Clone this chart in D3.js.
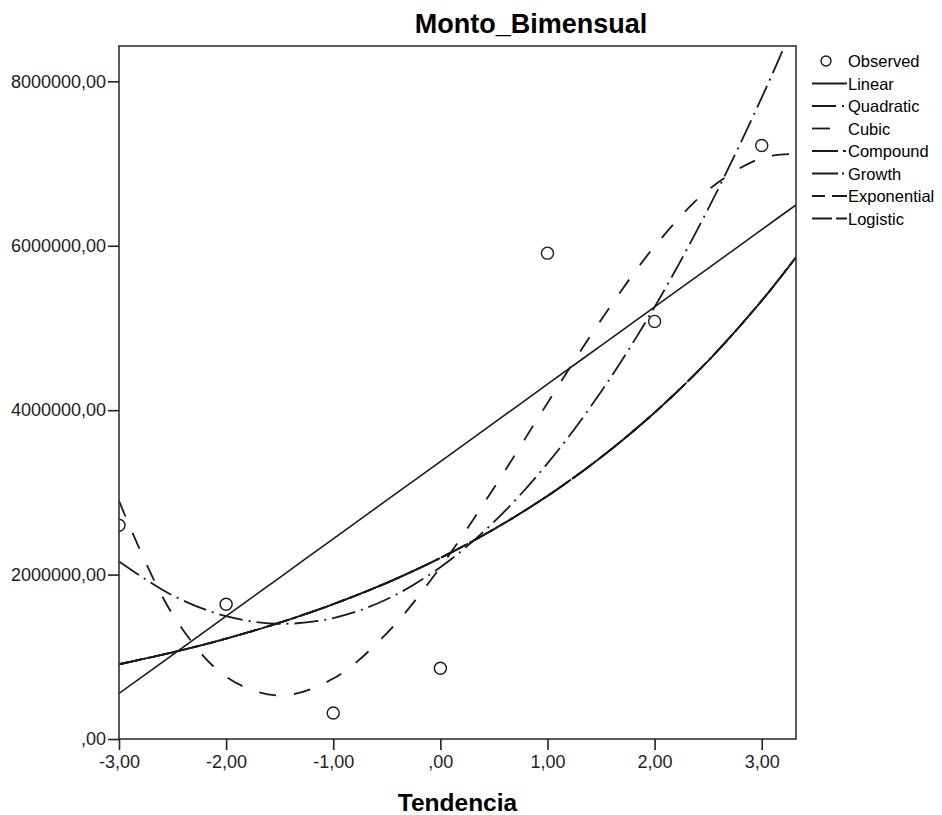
<!DOCTYPE html>
<html>
<head>
<meta charset="utf-8">
<script src="https://cdn.jsdelivr.net/npm/d3@7"></script>
<style>
  body { margin: 0; background: #fff; }
  svg { font-family: "Liberation Sans", Arial, sans-serif; }
  .axis path, .axis line { stroke: #222; stroke-width: 1.6; }
  .axis text { font-size: 18px; fill: #222; }
</style>
</head>
<body>
<script>
//tick values and labels (SPSS style, comma decimals)
var xTicks = [-3, -2, -1, 0, 1, 2, 3];
var xTickLabels = ["-3,00", "-2,00", "-1,00", ",00", "1,00", "2,00", "3,00"];
var yTicks = [0, 2000000, 4000000, 6000000, 8000000];
var yTickLabels = [",00", "2000000,00", "4000000,00", "6000000,00", "8000000,00"];

//observed points
var obsX = [-3, -2, -1, 0, 1, 2, 3];
var obsY = [2600000, 1640000, 316000, 860000, 5910000, 5080000, 7220000];

//fitted curves at these x positions
var fitX = [-3, -2.5, -2, -1.5, -1, -0.5, 0, 0.5, 1, 1.5, 2, 2.5, 3, 3.32];
var linearY = [554000, 1024000, 1494000, 1964000, 2435000, 2905000, 3375000, 3845000, 4316000, 4786000, 5256000, 5726000, 6197000, 6497000];
var quadraticY = [2160000, 1747000, 1494000, 1402000, 1471000, 1700000, 2090000, 2640000, 3352000, 4224000, 5256000, 6449000, 7802000, 8754000];
var cubicY = [2896000, 1517000, 758000, 529000, 735000, 1286000, 2090000, 3054000, 4087000, 5097000, 5992000, 6679000, 7068000, 7116000];
//compound, growth, exponential and logistic lie on the same curve
var expFamilyY = [909000, 1054000, 1221000, 1415000, 1640000, 1900000, 2202000, 2552000, 2957000, 3427000, 3971000, 4601000, 5332000, 5860000];

var legendNames = ["Linear", "Quadratic", "Cubic", "Compound", "Growth", "Exponential", "Logistic"];

(function () {

    //dash patterns in the plot and in the legend samples
    var lineDash = ["none", "24,6,2,6", "17,18", "20,4,3,4", "24,6,2,6", "9,6", "14,3"];
    var legendDash = ["none", "24,6,2,3", "18,17", "26,5,3,1", "26,4,2,3", "13,7,15", "20,4,11"];
    var seriesY = [linearY, quadraticY, cubicY, expFamilyY, expFamilyY, expFamilyY, expFamilyY];

    //frame of the plot area
    var width = 942, height = 815;
    var plotLeft = 119, plotRight = 796, plotTop = 46, plotBottom = 739;

    var svg = d3.select("body").append("svg")
        .attr("width", width)
        .attr("height", height);

    var x = d3.scaleLinear().domain([-3, 3.32]).range([plotLeft, plotRight]);
    var y = d3.scaleLinear().domain([0, 8430000]).range([plotBottom, plotTop]);

    svg.append("clipPath").attr("id", "plotClip")
      .append("rect")
        .attr("x", plotLeft).attr("y", plotTop)
        .attr("width", plotRight - plotLeft).attr("height", plotBottom - plotTop);

    //fit lines
    var plot = svg.append("g").attr("clip-path", "url(#plotClip)");

    var line = d3.line()
        .x(function (d) { return x(d[0]); })
        .y(function (d) { return y(d[1]); })
        .curve(d3.curveCatmullRom);

    seriesY.forEach(function (ys, i) {
        plot.append("path")
            .datum(fitX.map(function (xv, j) { return [xv, ys[j]]; }))
            .attr("d", line)
            .attr("fill", "none")
            .attr("stroke", "#1a1a1a")
            .attr("stroke-width", i == 0 ? 1.6 : 1.8)
            .attr("stroke-dasharray", lineDash[i]);
    });

    //observed points
    plot.selectAll(".obs")
        .data(obsX)
        .enter()
        .append("circle")
        .attr("class", "obs")
        .attr("cx", function (d) { return x(d); })
        .attr("cy", function (d, i) { return y(obsY[i]); })
        .attr("r", 6)
        .attr("fill", "#fff")
        .attr("stroke", "#1a1a1a")
        .attr("stroke-width", 1.4);

    //box round the plot
    svg.append("rect")
        .attr("x", plotLeft).attr("y", plotTop)
        .attr("width", plotRight - plotLeft).attr("height", plotBottom - plotTop)
        .attr("fill", "none")
        .attr("stroke", "#333")
        .attr("stroke-width", 1.6);

    //axes
    var xAxis = d3.axisBottom(x)
        .tickValues(xTicks)
        .tickSize(11)
        .tickPadding(5)
        .tickFormat(function (d, i) { return xTickLabels[i]; });
    svg.append("g")
        .attr("class", "axis")
        .attr("transform", "translate(0," + plotBottom + ")")
        .call(xAxis)
        .call(function (g) { g.select(".domain").remove(); });

    var yAxis = d3.axisLeft(y)
        .tickValues(yTicks)
        .tickSize(11)
        .tickPadding(2)
        .tickFormat(function (d, i) { return yTickLabels[i]; });
    svg.append("g")
        .attr("class", "axis")
        .attr("transform", "translate(" + plotLeft + ",0)")
        .call(yAxis)
        .call(function (g) { g.select(".domain").remove(); });

    //titles
    svg.append("text")
        .attr("x", 531).attr("y", 33)
        .attr("text-anchor", "middle")
        .style("font-size", "27px")
        .style("font-weight", "bold")
        .text("Monto_Bimensual");

    svg.append("text")
        .attr("x", (plotLeft + plotRight) / 2).attr("y", 811)
        .attr("text-anchor", "middle")
        .style("font-size", "24.5px")
        .style("font-weight", "bold")
        .text("Tendencia");

    //legend
    var legend = svg.append("g").attr("transform", "translate(812,61)");
    legend.append("circle")
        .attr("cx", 14).attr("cy", 0).attr("r", 5)
        .attr("fill", "#fff").attr("stroke", "#1a1a1a").attr("stroke-width", 1.4);
    legend.append("text")
        .attr("x", 36).attr("y", 6)
        .style("font-size", "16.5px")
        .text("Observed");

    legendNames.forEach(function (name, i) {
        var ly = 22.5 * (i + 1);
        legend.append("line")
            .attr("x1", 0).attr("x2", 35)
            .attr("y1", ly).attr("y2", ly)
            .attr("stroke", "#1a1a1a")
            .attr("stroke-width", 1.8)
            .attr("stroke-dasharray", legendDash[i]);
        legend.append("text")
            .attr("x", 36).attr("y", ly + 6)
            .style("font-size", "16.5px")
            .text(name);
    });

})();
</script>
</body>
</html>
